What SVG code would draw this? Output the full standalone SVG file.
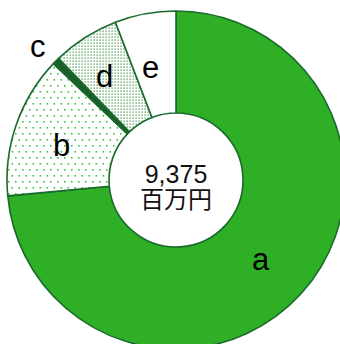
<svg xmlns="http://www.w3.org/2000/svg" width="340" height="344" viewBox="0 0 340 344">
  <defs>
    <pattern id="dotsLight" width="7" height="12" patternUnits="userSpaceOnUse">
      <rect width="7" height="12" fill="#ffffff"/>
      <rect x="1" y="1" width="1.6" height="1.6" fill="#3cc03c"/>
      <rect x="4.5" y="7" width="1.6" height="1.6" fill="#3cc03c"/>
    </pattern>
    <pattern id="dotsDense" width="3" height="3" patternUnits="userSpaceOnUse">
      <rect width="3" height="3" fill="#ffffff"/>
      <rect x="0.5" y="0.5" width="1.2" height="1.2" fill="#2f8a3a"/>
    </pattern>
  </defs>
  <style>
    .slice { stroke: #1a6a2c; stroke-width: 1.6; stroke-linejoin: round; }
    .lbl { font-family: "Liberation Sans", Arial, sans-serif; font-size: 31px; fill: #000000; }
    .ctr { font-family: "Liberation Sans", "Noto Sans CJK JP", sans-serif; fill: #111111; text-anchor: middle; }
  </style>
  <rect width="340" height="344" fill="#ffffff"/>
  <g id="slice-a">
    <path class="slice" fill="#2eaf26" d="M176,11 A169,169 0 1,1 7.75,195.90 L109.30,186.31 A67,67 0 1,0 176,113 Z"/>
  </g>
  <g id="slice-b">
    <path class="slice" fill="url(#dotsLight)" d="M7.75,195.90 A169,169 0 0,1 53.41,63.67 L127.40,133.88 A67,67 0 0,0 109.30,186.31 Z"/>
  </g>
  <g id="slice-c">
    <path class="slice" fill="#1a5e2a" stroke-width="2.5" d="M53.41,63.67 A169,169 0 0,1 58.60,58.43 L129.46,131.80 A67,67 0 0,0 127.40,133.88 Z"/>
  </g>
  <g id="slice-d">
    <path class="slice" fill="url(#dotsDense)" d="M58.60,58.43 A169,169 0 0,1 115.44,22.23 L151.99,117.45 A67,67 0 0,0 129.46,131.80 Z"/>
  </g>
  <g id="slice-e">
    <path class="slice" fill="#ffffff" d="M115.44,22.23 A169,169 0 0,1 176,11 L176,113 A67,67 0 0,0 151.99,117.45 Z"/>
  </g>
  <g id="labels">
    <text class="lbl" x="252" y="270">a</text>
    <text class="lbl" x="53" y="156">b</text>
    <text class="lbl" x="30" y="57">c</text>
    <text class="lbl" x="96" y="87">d</text>
    <text class="lbl" x="142" y="78">e</text>
  </g>
  <g id="center">
    <text class="ctr" x="176" y="183" font-size="25">9,375</text>
    <text class="ctr" x="176" y="208" font-size="24" font-family="'Noto Sans CJK JP', sans-serif">百万円</text>
  </g>
</svg>
